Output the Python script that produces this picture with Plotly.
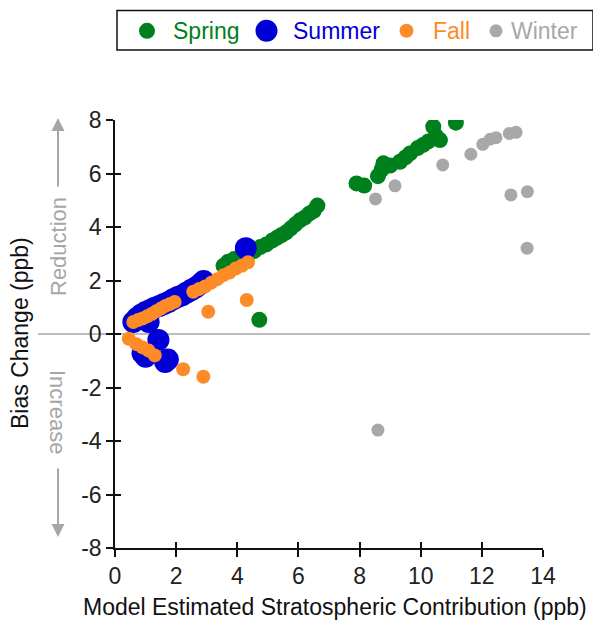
import plotly.graph_objects as go

# ---------------- data ----------------
spring_x = [3.55, 3.7, 3.9, 4.1, 4.3, 4.55, 4.75, 4.95, 5.15, 5.3, 5.45, 5.6, 5.75, 5.9, 6.05, 6.2, 6.35, 6.5, 6.62,
            4.72, 7.9, 8.15, 8.6, 8.72, 8.78, 9.0, 9.32, 9.5, 9.65, 9.9, 10.08, 10.25, 10.41, 10.5, 10.63, 11.15]
spring_y = [2.55, 2.7, 2.8, 2.9, 3.0, 3.1, 3.25, 3.35, 3.5, 3.6, 3.7, 3.8, 3.95, 4.1, 4.25, 4.35, 4.5, 4.6, 4.8,
            0.53, 5.63, 5.55, 5.9, 6.15, 6.38, 6.3, 6.44, 6.6, 6.75, 6.95, 7.07, 7.2, 7.75, 7.4, 7.25, 7.9]

summer_x = [0.6, 0.72, 0.85, 1.0, 1.1, 1.15, 1.3, 1.45, 1.6, 1.75, 1.9, 2.05, 2.2, 2.35, 2.5, 2.65, 2.8, 2.9,
            0.9, 1.0, 1.42, 1.64, 1.73, 4.28]
summer_y = [0.45, 0.6, 0.72, 0.82, 0.45, 0.9, 0.98, 1.05, 1.12, 1.2, 1.3, 1.38, 1.45, 1.55, 1.65, 1.75, 1.88, 1.98,
            -0.72, -0.85, -0.22, -1.05, -0.95, 3.21]

fall_x = [0.6, 0.75, 0.9, 1.05, 1.2, 1.35, 1.5, 1.65, 1.8, 1.95,
          2.56, 2.75, 2.95, 3.15, 3.35, 3.55, 3.75, 3.95, 4.15, 4.35,
          3.05, 4.31, 0.45, 0.7, 0.9, 1.1, 1.3, 2.23, 2.89]
fall_y = [0.45, 0.52, 0.58, 0.66, 0.75, 0.85, 0.95, 1.05, 1.12, 1.2,
          1.58, 1.68, 1.78, 1.92, 2.05, 2.2, 2.3, 2.45, 2.55, 2.68,
          0.83, 1.27, -0.18, -0.38, -0.5, -0.62, -0.8, -1.32, -1.6]

winter_x = [8.52, 9.16, 10.72, 11.64, 12.03, 12.27, 12.46, 12.90, 13.12, 12.95, 13.49, 13.48, 8.60]
winter_y = [5.05, 5.54, 6.32, 6.72, 7.09, 7.28, 7.34, 7.50, 7.54, 5.20, 5.32, 3.21, -3.59]

season_names = ["Spring", "Summer", "Fall", "Winter"]
x_ticks = [0, 2, 4, 6, 8, 10, 12, 14]
x_tick_labels = ["0", "2", "4", "6", "8", "10", "12", "14"]
y_ticks = [-8, -6, -4, -2, 0, 2, 4, 6, 8]
y_tick_labels = ["-8", "-6", "-4", "-2", "0", "2", "4", "6", "8"]

# ---------------- style ----------------
FONT = "Arial, Liberation Sans, sans-serif"
COLORS = ["#00801C", "#0000D6", "#FD8C28", "#A8A8A8"]
SIZES = [16, 22, 14, 13]
ANNO_GRAY = "#A6A6A6"
FS = 23

# plot area in page pixels (page has an 8px body margin)
PL, PR, PT, PB = 115, 543, 120, 548
PW, PH = PR - PL, PB - PT


def px2paper_x(px):
    return (px - PL) / PW


def px2paper_y(py):
    return (PB - py) / PH


fig = go.Figure()

data = [(spring_x, spring_y), (summer_x, summer_y), (fall_x, fall_y), (winter_x, winter_y)]
for name, (xs, ys), col, sz in zip(season_names, data, COLORS, SIZES):
    fig.add_trace(go.Scatter(
        x=xs, y=ys, mode="markers", name=name, showlegend=False,
        marker=dict(color=col, size=sz, line=dict(width=0)),
    ))

# empty trace on overlay axes to draw the inner half of crossing ticks
fig.add_trace(go.Scatter(x=[], y=[], xaxis="x2", yaxis="y2", showlegend=False))

axis_common = dict(showgrid=False, zeroline=False, showline=True, linecolor="#111", linewidth=1.5,
                   ticks="outside", ticklen=7, tickwidth=1.5, tickcolor="#111",
                   tickfont=dict(family=FONT, size=FS, color="#222"))

fig.update_layout(
    width=593, height=617,
    margin=dict(l=PL - 8, r=593 - (PR - 8), t=PT - 8, b=617 - (PB - 8)),
    paper_bgcolor="white", plot_bgcolor="white",
    font=dict(family=FONT, size=FS, color="#111"),
    xaxis=dict(range=[0, 14], tickvals=x_ticks, ticktext=x_tick_labels, **axis_common),
    yaxis=dict(range=[-8, 8], tickvals=y_ticks, ticktext=y_tick_labels, **axis_common),
    xaxis2=dict(range=[0, 14], tickvals=x_ticks, overlaying="x", anchor="y2", showgrid=False, zeroline=False,
                showline=False, ticks="inside", ticklen=6, tickwidth=1.5, tickcolor="#111", showticklabels=False),
    yaxis2=dict(range=[-8, 8], tickvals=y_ticks, overlaying="y", anchor="x2", showgrid=False, zeroline=False,
                showline=False, ticks="inside", ticklen=6, tickwidth=1.5, tickcolor="#111", showticklabels=False),
    showlegend=False,
)

# horizontal zero line extending beyond the axes
fig.add_shape(type="line", xref="paper", yref="y", x0=px2paper_x(38), x1=px2paper_x(590), y0=0, y1=0,
              line=dict(color=ANNO_GRAY, width=1.5), layer="below")

# axis titles and side labels
annos = [
    ("Bias Change (ppb)", 20, 333, -90, "#111"),
    ("Model Estimated Stratospheric Contribution (ppb)", 335, 607, 0, "#111"),
    ("Reduction", 58, 247, -90, ANNO_GRAY),
    ("Increase", 58, 412, 90, ANNO_GRAY),
]
for text, px, py, ang, col in annos:
    fig.add_annotation(xref="paper", yref="paper", x=px2paper_x(px), y=px2paper_y(py), text=text,
                       textangle=ang, showarrow=False, xanchor="center", yanchor="middle",
                       font=dict(family=FONT, size=FS if col == "#111" else 22, color=col))

# arrows
fig.add_annotation(xref="paper", yref="paper", x=px2paper_x(58), y=px2paper_y(118), ax=0, ay=70, text="",
                   showarrow=True, arrowhead=2, arrowsize=1.3, arrowwidth=2, arrowcolor=ANNO_GRAY)
fig.add_annotation(xref="paper", yref="paper", x=px2paper_x(58), y=px2paper_y(537), ax=0, ay=-70, text="",
                   showarrow=True, arrowhead=2, arrowsize=1.3, arrowwidth=2, arrowcolor=ANNO_GRAY)

# legend (drawn manually so marker sizes follow the series)
LEG_Y = 30.8
fig.add_shape(type="rect", xref="paper", yref="paper",
              x0=px2paper_x(117), x1=px2paper_x(593), y0=px2paper_y(50), y1=px2paper_y(10.5),
              line=dict(color="#111", width=1.5), fillcolor="white", layer="above")
leg_marker_px = [147, 266.5, 406.5, 496]
leg_text_px = [171, 291, 431, 509]
for name, col, sz, mx, tx in zip(season_names, COLORS, SIZES, leg_marker_px, leg_text_px):
    fig.add_shape(type="circle", xref="paper", yref="paper", xsizemode="pixel", ysizemode="pixel",
                  xanchor=px2paper_x(mx), yanchor=px2paper_y(LEG_Y),
                  x0=-sz / 2, x1=sz / 2, y0=-sz / 2, y1=sz / 2,
                  fillcolor=col, line=dict(width=0), layer="above")
    fig.add_annotation(xref="paper", yref="paper", x=px2paper_x(tx), y=px2paper_y(LEG_Y), text=name,
                       showarrow=False, xanchor="left", yanchor="middle",
                       font=dict(family=FONT, size=FS, color=col))

fig.write_html("out.html")
